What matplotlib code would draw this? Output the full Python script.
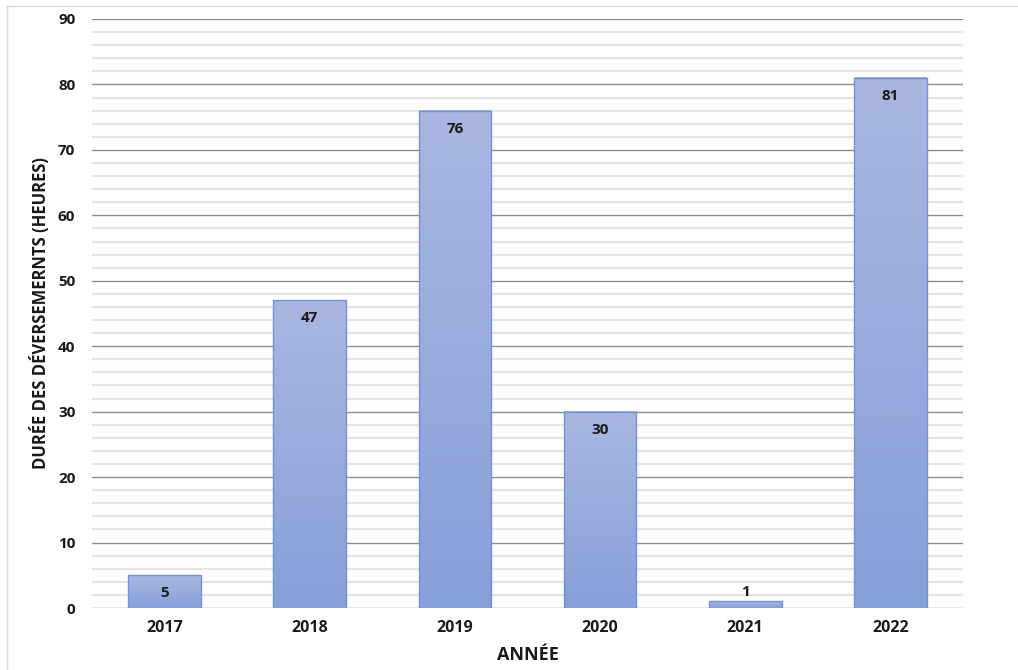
import matplotlib
matplotlib.use("Agg")
import matplotlib.pyplot as plt
import numpy as np
from matplotlib.colors import LinearSegmentedColormap
from matplotlib.lines import Line2D

years = ["2017", "2018", "2019", "2020", "2021", "2022"]
durations = [5, 47, 76, 30, 1, 81]
y_ticks = [0, 10, 20, 30, 40, 50, 60, 70, 80, 90]

plt.rcParams['font.family'] = ['Open Sans', 'DejaVu Sans']

fig = plt.figure(figsize=(10.18, 6.7), dpi=100)
ax = fig.add_axes([92/1018, 1-608/670, (963-92)/1018, (608-19)/670])

ax.set_xlim(-0.5, len(years) - 0.5)
ax.set_ylim(0, 90)

# gridlines
ax.set_yticks(y_ticks)
ax.set_yticks(np.arange(0, 91, 2), minor=True)
ax.grid(which='minor', axis='y', color='#e4e4e4', linewidth=1.6, zorder=0)
ax.grid(which='major', axis='y', color='#8c8c8c', linewidth=1.0, zorder=0.5)
ax.set_axisbelow(True)

cmap = LinearSegmentedColormap.from_list('g', ['#86a0d9', '#a9b7e1'])
grad = np.linspace(0, 1, 256).reshape(-1, 1)
w = 0.5
xs = np.arange(len(years))
for x, v in zip(xs, durations):
    ax.imshow(grad, extent=[x - w/2, x + w/2, 0, v], origin='lower',
              cmap=cmap, aspect='auto', zorder=2, interpolation='bilinear')
bars = ax.bar(xs, durations, width=w, facecolor='none', edgecolor='#7391d6',
              linewidth=1.0, zorder=3)
ax.set_xlim(-0.5, len(years) - 0.5)
ax.set_ylim(0, 90)

for x, v in zip(xs, durations):
    off = -13 if v >= 3 else 7
    ax.annotate(str(v), (x, v), xytext=(0, off), textcoords='offset points',
                ha='center', va='center', fontsize=11, fontweight='bold',
                color='#1a1a1a', zorder=4)

ax.set_xticks(xs)
ax.set_xticklabels(years, fontsize=11.5, fontweight='bold', color='#1a1a1a')
ax.set_yticklabels([str(t) for t in y_ticks], fontsize=11, fontweight='bold', color='#1a1a1a')
ax.tick_params(axis='both', which='both', length=0)
ax.tick_params(axis='y', pad=12)
ax.tick_params(axis='x', pad=9)
for s in ax.spines.values():
    s.set_visible(False)

ax.set_xlabel('ANNÉE', fontsize=13, fontweight='bold', color='#1a1a1a', labelpad=7)
ax.set_ylabel('DURÉE DES DÉVERSEMERNTS (HEURES)', fontsize=12, fontweight='bold',
              color='#1a1a1a', labelpad=6)

# outer border (left and top)
fig.add_artist(Line2D([7/1018, 7/1018], [0, 1-6/670], color='#d9d9d9', linewidth=1, transform=fig.transFigure))
fig.add_artist(Line2D([7/1018, 1], [1-6/670, 1-6/670], color='#d9d9d9', linewidth=1, transform=fig.transFigure))

fig.savefig('out.png', dpi=100)
